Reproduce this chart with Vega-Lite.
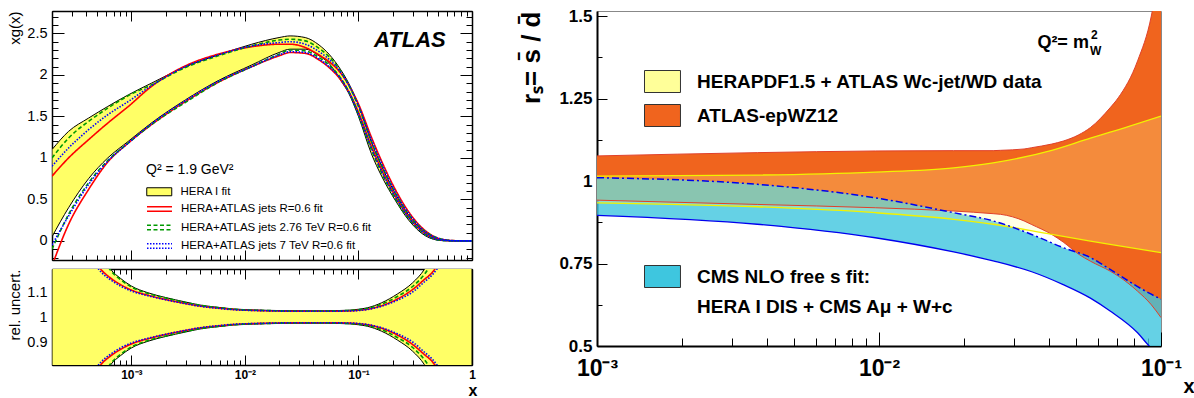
{
"$schema": "https://vega.github.io/schema/vega-lite/v6.json",
"background": "white",
"padding": {"left": 7, "top": 6, "right": 0, "bottom": 0},
"config": {
  "font": "Liberation Sans",
  "axis": {"labelFont": "Liberation Sans", "titleFont": "Liberation Sans", "domainColor": "black", "tickColor": "black", "labelColor": "black", "titleColor": "black", "grid": false},
  "legend": {"labelFont": "Liberation Sans", "titleFont": "Liberation Sans", "labelColor": "black", "titleColor": "black"}
},
"resolve": {
  "scale": {"fill": "independent", "color": "independent", "stroke": "independent", "strokeDash": "independent"},
  "legend": {"fill": "independent", "color": "independent", "stroke": "independent", "strokeDash": "independent"}
},
"datasets": {
 "pdf": [
  {"x":0.0002,"s":"H","lo":0.05,"hi":1.1},{"x":0.00028,"s":"H","lo":0.4,"hi":1.32},{"x":0.00042,"s":"H","lo":0.75,"hi":1.48},{"x":0.00062,"s":"H","lo":1.0,"hi":1.62},{"x":0.00094,"s":"H","lo":1.2,"hi":1.76},{"x":0.0015,"s":"H","lo":1.42,"hi":1.9},{"x":0.003,"s":"H","lo":1.7,"hi":2.1},{"x":0.0058,"s":"H","lo":1.93,"hi":2.24},{"x":0.0115,"s":"H","lo":2.12,"hi":2.37},{"x":0.02,"s":"H","lo":2.27,"hi":2.45},{"x":0.025,"s":"H","lo":2.31,"hi":2.47},{"x":0.034,"s":"H","lo":2.31,"hi":2.45},{"x":0.045,"s":"H","lo":2.23,"hi":2.36},{"x":0.055,"s":"H","lo":2.14,"hi":2.25},{"x":0.07,"s":"H","lo":1.93,"hi":2.06},{"x":0.082,"s":"H","lo":1.78,"hi":1.9},{"x":0.1,"s":"H","lo":1.5,"hi":1.64},{"x":0.13,"s":"H","lo":1.05,"hi":1.19},{"x":0.16,"s":"H","lo":0.78,"hi":0.9},{"x":0.213,"s":"H","lo":0.48,"hi":0.56},{"x":0.277,"s":"H","lo":0.25,"hi":0.31},{"x":0.39,"s":"H","lo":0.06,"hi":0.1},{"x":0.54,"s":"H","lo":0.004,"hi":0.015},{"x":0.7,"s":"H","lo":0,"hi":0.002},{"x":1,"s":"H","lo":0,"hi":0},
  {"x":0.0002,"s":"R","lo":-0.3,"hi":0.78},{"x":0.00028,"s":"R","lo":0.2,"hi":1.0},{"x":0.00042,"s":"R","lo":0.62,"hi":1.22},{"x":0.00062,"s":"R","lo":0.95,"hi":1.42},{"x":0.00094,"s":"R","lo":1.18,"hi":1.62},{"x":0.0015,"s":"R","lo":1.4,"hi":1.86},{"x":0.003,"s":"R","lo":1.68,"hi":2.11},{"x":0.0058,"s":"R","lo":1.91,"hi":2.25},{"x":0.0115,"s":"R","lo":2.1,"hi":2.34},{"x":0.02,"s":"R","lo":2.23,"hi":2.37},{"x":0.025,"s":"R","lo":2.27,"hi":2.37},{"x":0.034,"s":"R","lo":2.26,"hi":2.33},{"x":0.045,"s":"R","lo":2.18,"hi":2.24},{"x":0.055,"s":"R","lo":2.09,"hi":2.16},{"x":0.07,"s":"R","lo":1.94,"hi":2.02},{"x":0.082,"s":"R","lo":1.8,"hi":1.88},{"x":0.1,"s":"R","lo":1.55,"hi":1.65},{"x":0.13,"s":"R","lo":1.14,"hi":1.25},{"x":0.16,"s":"R","lo":0.86,"hi":0.96},{"x":0.213,"s":"R","lo":0.53,"hi":0.61},{"x":0.277,"s":"R","lo":0.29,"hi":0.35},{"x":0.39,"s":"R","lo":0.085,"hi":0.12},{"x":0.54,"s":"R","lo":0.01,"hi":0.02},{"x":0.7,"s":"R","lo":0.001,"hi":0.003},{"x":1,"s":"R","lo":0,"hi":0},
  {"x":0.0002,"s":"G","lo":-0.1,"hi":1.0},{"x":0.00028,"s":"G","lo":0.32,"hi":1.24},{"x":0.00042,"s":"G","lo":0.7,"hi":1.44},{"x":0.00062,"s":"G","lo":0.97,"hi":1.6},{"x":0.00094,"s":"G","lo":1.18,"hi":1.75},{"x":0.0015,"s":"G","lo":1.4,"hi":1.88},{"x":0.003,"s":"G","lo":1.67,"hi":2.09},{"x":0.0058,"s":"G","lo":1.91,"hi":2.23},{"x":0.0115,"s":"G","lo":2.1,"hi":2.35},{"x":0.02,"s":"G","lo":2.25,"hi":2.42},{"x":0.025,"s":"G","lo":2.3,"hi":2.43},{"x":0.034,"s":"G","lo":2.29,"hi":2.41},{"x":0.045,"s":"G","lo":2.21,"hi":2.32},{"x":0.055,"s":"G","lo":2.12,"hi":2.22},{"x":0.07,"s":"G","lo":1.96,"hi":2.04},{"x":0.082,"s":"G","lo":1.8,"hi":1.88},{"x":0.1,"s":"G","lo":1.52,"hi":1.62},{"x":0.13,"s":"G","lo":1.1,"hi":1.2},{"x":0.16,"s":"G","lo":0.82,"hi":0.91},{"x":0.213,"s":"G","lo":0.5,"hi":0.57},{"x":0.277,"s":"G","lo":0.27,"hi":0.32},{"x":0.39,"s":"G","lo":0.075,"hi":0.11},{"x":0.54,"s":"G","lo":0.005,"hi":0.02},{"x":0.7,"s":"G","lo":0,"hi":0.002},{"x":1,"s":"G","lo":0,"hi":0},
  {"x":0.0002,"s":"B","lo":-0.05,"hi":0.9},{"x":0.00028,"s":"B","lo":0.3,"hi":1.12},{"x":0.00042,"s":"B","lo":0.68,"hi":1.34},{"x":0.00062,"s":"B","lo":0.96,"hi":1.52},{"x":0.00094,"s":"B","lo":1.18,"hi":1.68},{"x":0.0015,"s":"B","lo":1.41,"hi":1.87},{"x":0.003,"s":"B","lo":1.69,"hi":2.1},{"x":0.0058,"s":"B","lo":1.92,"hi":2.24},{"x":0.0115,"s":"B","lo":2.1,"hi":2.35},{"x":0.02,"s":"B","lo":2.24,"hi":2.39},{"x":0.025,"s":"B","lo":2.28,"hi":2.4},{"x":0.034,"s":"B","lo":2.27,"hi":2.37},{"x":0.045,"s":"B","lo":2.19,"hi":2.28},{"x":0.055,"s":"B","lo":2.1,"hi":2.19},{"x":0.07,"s":"B","lo":1.95,"hi":2.03},{"x":0.082,"s":"B","lo":1.8,"hi":1.88},{"x":0.1,"s":"B","lo":1.53,"hi":1.63},{"x":0.13,"s":"B","lo":1.12,"hi":1.22},{"x":0.16,"s":"B","lo":0.84,"hi":0.93},{"x":0.213,"s":"B","lo":0.52,"hi":0.58},{"x":0.277,"s":"B","lo":0.28,"hi":0.33},{"x":0.39,"s":"B","lo":0.08,"hi":0.11},{"x":0.54,"s":"B","lo":0.008,"hi":0.02},{"x":0.7,"s":"B","lo":0.001,"hi":0.002},{"x":1,"s":"B","lo":0,"hi":0}
 ],
 "rel": [
  {"x":0.0002,"s":"H","lo":0.1,"hi":1.9},{"x":0.0003,"s":"H","lo":0.45,"hi":1.55},{"x":0.0004,"s":"H","lo":0.62,"hi":1.38},{"x":0.00054,"s":"H","lo":0.74,"hi":1.26},{"x":0.00066,"s":"H","lo":0.81,"hi":1.19},{"x":0.0008,"s":"H","lo":0.845,"hi":1.155},{"x":0.001,"s":"H","lo":0.876,"hi":1.124},{"x":0.0014,"s":"H","lo":0.903,"hi":1.097},{"x":0.002,"s":"H","lo":0.922,"hi":1.078},{"x":0.003,"s":"H","lo":0.94,"hi":1.06},{"x":0.004,"s":"H","lo":0.952,"hi":1.048},{"x":0.006,"s":"H","lo":0.962,"hi":1.038},{"x":0.008,"s":"H","lo":0.968,"hi":1.032},{"x":0.015,"s":"H","lo":0.973,"hi":1.027},{"x":0.03,"s":"H","lo":0.975,"hi":1.025},{"x":0.05,"s":"H","lo":0.975,"hi":1.025},{"x":0.08,"s":"H","lo":0.973,"hi":1.027},{"x":0.1,"s":"H","lo":0.969,"hi":1.031},{"x":0.12,"s":"H","lo":0.963,"hi":1.037},{"x":0.16,"s":"H","lo":0.943,"hi":1.057},{"x":0.22,"s":"H","lo":0.908,"hi":1.092},{"x":0.3,"s":"H","lo":0.863,"hi":1.137},{"x":0.38,"s":"H","lo":0.81,"hi":1.19},{"x":0.45,"s":"H","lo":0.75,"hi":1.25},{"x":0.6,"s":"H","lo":0.6,"hi":1.4},{"x":0.8,"s":"H","lo":0.4,"hi":1.6},{"x":1,"s":"H","lo":0.2,"hi":1.8},
  {"x":0.0002,"s":"R","lo":0.3,"hi":1.7},{"x":0.0003,"s":"R","lo":0.58,"hi":1.42},{"x":0.0004,"s":"R","lo":0.72,"hi":1.28},{"x":0.00054,"s":"R","lo":0.81,"hi":1.19},{"x":0.00066,"s":"R","lo":0.845,"hi":1.155},{"x":0.0008,"s":"R","lo":0.87,"hi":1.13},{"x":0.001,"s":"R","lo":0.892,"hi":1.108},{"x":0.0014,"s":"R","lo":0.913,"hi":1.087},{"x":0.002,"s":"R","lo":0.93,"hi":1.07},{"x":0.003,"s":"R","lo":0.946,"hi":1.054},{"x":0.004,"s":"R","lo":0.956,"hi":1.044},{"x":0.006,"s":"R","lo":0.965,"hi":1.035},{"x":0.008,"s":"R","lo":0.97,"hi":1.03},{"x":0.015,"s":"R","lo":0.975,"hi":1.025},{"x":0.03,"s":"R","lo":0.977,"hi":1.023},{"x":0.05,"s":"R","lo":0.977,"hi":1.023},{"x":0.08,"s":"R","lo":0.976,"hi":1.024},{"x":0.1,"s":"R","lo":0.973,"hi":1.027},{"x":0.12,"s":"R","lo":0.969,"hi":1.031},{"x":0.16,"s":"R","lo":0.955,"hi":1.045},{"x":0.22,"s":"R","lo":0.928,"hi":1.072},{"x":0.3,"s":"R","lo":0.89,"hi":1.11},{"x":0.38,"s":"R","lo":0.85,"hi":1.15},{"x":0.45,"s":"R","lo":0.82,"hi":1.18},{"x":0.6,"s":"R","lo":0.72,"hi":1.28},{"x":0.8,"s":"R","lo":0.55,"hi":1.45},{"x":1,"s":"R","lo":0.4,"hi":1.6},
  {"x":0.0002,"s":"G","lo":0.14,"hi":1.86},{"x":0.0003,"s":"G","lo":0.47,"hi":1.53},{"x":0.0004,"s":"G","lo":0.63,"hi":1.37},{"x":0.00054,"s":"G","lo":0.75,"hi":1.25},{"x":0.00066,"s":"G","lo":0.815,"hi":1.185},{"x":0.0008,"s":"G","lo":0.85,"hi":1.15},{"x":0.001,"s":"G","lo":0.88,"hi":1.12},{"x":0.0014,"s":"G","lo":0.906,"hi":1.094},{"x":0.002,"s":"G","lo":0.924,"hi":1.076},{"x":0.003,"s":"G","lo":0.942,"hi":1.058},{"x":0.004,"s":"G","lo":0.953,"hi":1.047},{"x":0.006,"s":"G","lo":0.963,"hi":1.037},{"x":0.008,"s":"G","lo":0.969,"hi":1.031},{"x":0.015,"s":"G","lo":0.974,"hi":1.026},{"x":0.03,"s":"G","lo":0.976,"hi":1.024},{"x":0.05,"s":"G","lo":0.976,"hi":1.024},{"x":0.08,"s":"G","lo":0.974,"hi":1.026},{"x":0.1,"s":"G","lo":0.971,"hi":1.029},{"x":0.12,"s":"G","lo":0.966,"hi":1.034},{"x":0.16,"s":"G","lo":0.949,"hi":1.051},{"x":0.22,"s":"G","lo":0.918,"hi":1.082},{"x":0.3,"s":"G","lo":0.878,"hi":1.122},{"x":0.38,"s":"G","lo":0.83,"hi":1.17},{"x":0.45,"s":"G","lo":0.78,"hi":1.22},{"x":0.6,"s":"G","lo":0.66,"hi":1.34},{"x":0.8,"s":"G","lo":0.48,"hi":1.52},{"x":1,"s":"G","lo":0.3,"hi":1.7},
  {"x":0.0002,"s":"B","lo":0.34,"hi":1.66},{"x":0.0003,"s":"B","lo":0.6,"hi":1.4},{"x":0.0004,"s":"B","lo":0.73,"hi":1.27},{"x":0.00054,"s":"B","lo":0.82,"hi":1.18},{"x":0.00066,"s":"B","lo":0.852,"hi":1.148},{"x":0.0008,"s":"B","lo":0.876,"hi":1.124},{"x":0.001,"s":"B","lo":0.896,"hi":1.104},{"x":0.0014,"s":"B","lo":0.915,"hi":1.085},{"x":0.002,"s":"B","lo":0.931,"hi":1.069},{"x":0.003,"s":"B","lo":0.947,"hi":1.053},{"x":0.004,"s":"B","lo":0.957,"hi":1.043},{"x":0.006,"s":"B","lo":0.966,"hi":1.034},{"x":0.008,"s":"B","lo":0.971,"hi":1.029},{"x":0.015,"s":"B","lo":0.975,"hi":1.025},{"x":0.03,"s":"B","lo":0.977,"hi":1.023},{"x":0.05,"s":"B","lo":0.977,"hi":1.023},{"x":0.08,"s":"B","lo":0.976,"hi":1.024},{"x":0.1,"s":"B","lo":0.974,"hi":1.026},{"x":0.12,"s":"B","lo":0.97,"hi":1.03},{"x":0.16,"s":"B","lo":0.957,"hi":1.043},{"x":0.22,"s":"B","lo":0.933,"hi":1.067},{"x":0.3,"s":"B","lo":0.9,"hi":1.1},{"x":0.38,"s":"B","lo":0.86,"hi":1.14},{"x":0.45,"s":"B","lo":0.83,"hi":1.17},{"x":0.6,"s":"B","lo":0.74,"hi":1.26},{"x":0.8,"s":"B","lo":0.58,"hi":1.42},{"x":1,"s":"B","lo":0.45,"hi":1.55}
 ],
 "rs": [
  {"x":0.001,"s":"E","lo":0.942,"hi":1.076},{"x":0.0037,"s":"E","lo":0.929,"hi":1.086},{"x":0.0097,"s":"E","lo":0.919,"hi":1.091},{"x":0.0184,"s":"E","lo":0.909,"hi":1.092},{"x":0.0254,"s":"E","lo":0.901,"hi":1.092},{"x":0.027,"s":"E","lo":0.899,"hi":1.093},{"x":0.0327,"s":"E","lo":0.879,"hi":1.097},{"x":0.0348,"s":"E","lo":0.868,"hi":1.101},{"x":0.041,"s":"E","lo":0.838,"hi":1.112},{"x":0.045,"s":"E","lo":0.815,"hi":1.121},{"x":0.0511,"s":"E","lo":0.778,"hi":1.14},{"x":0.0562,"s":"E","lo":0.757,"hi":1.162},{"x":0.066,"s":"E","lo":0.727,"hi":1.222},{"x":0.0705,"s":"E","lo":0.712,"hi":1.252},{"x":0.0826,"s":"E","lo":0.666,"hi":1.364},{"x":0.0924,"s":"E","lo":0.625,"hi":1.5},{"x":0.1,"s":"E","lo":0.586,"hi":1.68},
  {"x":0.001,"s":"W","lo":0.934,"hi":1.015},{"x":0.0037,"s":"W","lo":0.922,"hi":1.018},{"x":0.0097,"s":"W","lo":0.904,"hi":1.027},{"x":0.0184,"s":"W","lo":0.884,"hi":1.04},{"x":0.0254,"s":"W","lo":0.869,"hi":1.055},{"x":0.041,"s":"W","lo":0.838,"hi":1.093},{"x":0.0562,"s":"W","lo":0.818,"hi":1.13},{"x":0.066,"s":"W","lo":0.808,"hi":1.148},{"x":0.1,"s":"W","lo":0.783,"hi":1.197},
  {"x":0.001,"s":"C","lo":0.896,"hi":1.01},{"x":0.0037,"s":"C","lo":0.869,"hi":0.99},{"x":0.0097,"s":"C","lo":0.828,"hi":0.949},{"x":0.0184,"s":"C","lo":0.785,"hi":0.904},{"x":0.0254,"s":"C","lo":0.758,"hi":0.879},{"x":0.0348,"s":"C","lo":0.725,"hi":0.838},{"x":0.045,"s":"C","lo":0.686,"hi":0.798},{"x":0.0562,"s":"C","lo":0.645,"hi":0.768},{"x":0.066,"s":"C","lo":0.606,"hi":0.732},{"x":0.0826,"s":"C","lo":0.54,"hi":0.68},{"x":0.0908,"s":"C","lo":0.5,"hi":0.66},{"x":0.1,"s":"C","lo":0.47,"hi":0.642}
 ]
},
"spacing": 40,
"hconcat": [
 {
  "spacing": 9,
  "bounds": "flush",
  "resolve": {
    "scale": {"fill": "independent", "stroke": "independent", "strokeDash": "independent"},
    "legend": {"fill": "independent", "stroke": "independent", "strokeDash": "independent"}
  },
  "vconcat": [
   {
    "width": 420, "height": 249,
    "view": {"stroke": "black", "strokeWidth": 1},
    "data": {"name": "pdf"},
    "resolve": {"axis": {"x": "independent", "y": "independent"}},
    "layer": [
     {
      "transform": [{"filter": "datum.s == 'H'"}],
      "mark": {"type": "area", "stroke": "black", "strokeWidth": 1, "clip": true, "interpolate": "monotone"},
      "encoding": {
       "x": {"field": "x", "type": "quantitative", "scale": {"type": "log", "domain": [0.0002, 1], "nice": false},
             "axis": {"orient": "bottom", "labels": false, "title": null, "domainWidth": 1.5, "tickWidth": 1,
                      "values": [0.0002,0.0003,0.0004,0.0005,0.0006,0.0007,0.0008,0.0009,0.001,0.002,0.003,0.004,0.005,0.006,0.007,0.008,0.009,0.01,0.02,0.03,0.04,0.05,0.06,0.07,0.08,0.09,0.1,0.2,0.3,0.4,0.5,0.6,0.7,0.8,0.9,1],
                      "tickSize": {"condition": {"test": "abs(log(datum.value)/LN10-round(log(datum.value)/LN10))<0.001", "value": -10}, "value": -5}}},
       "y": {"field": "lo", "type": "quantitative", "scale": {"domain": [-0.23, 2.77], "nice": false, "zero": false},
             "axis": {"orient": "left", "title": "xg(x)", "titleFontSize": 15, "titleFontWeight": "normal", "titleAnchor": "end", "titlePadding": 4,
                      "values": [-0.2,-0.1,0,0.1,0.2,0.3,0.4,0.5,0.6,0.7,0.8,0.9,1,1.1,1.2,1.3,1.4,1.5,1.6,1.7,1.8,1.9,2,2.1,2.2,2.3,2.4,2.5,2.6,2.7],
                      "labelExpr": "abs(datum.value*2-round(datum.value*2))<0.001 ? ''+datum.value : ''",
                      "labelFontSize": 14.5, "labelPadding": 17, "domainWidth": 1.5, "tickWidth": 1,
                      "tickSize": {"condition": {"test": "abs(datum.value*2-round(datum.value*2))<0.001", "value": -12}, "value": -6}}},
       "y2": {"field": "hi"},
       "fill": {"field": "s", "type": "nominal", "scale": {"domain": ["H"], "range": ["#ffff66"]},
                "legend": {"orient": "none", "legendX": 94, "legendY": 152, "title": "Q² = 1.9 GeV²", "titleFontSize": 14, "titleFontWeight": "normal", "titlePadding": 9, "padding": 0,
                           "labelExpr": "'HERA I fit'", "labelFontSize": 11.5, "labelFontWeight": "normal", "labelOffset": 23, "labelLimit": 0,
                           "symbolType": "M-1,-0.8H4V0.8H-1Z", "symbolSize": 100, "symbolStrokeColor": "black", "symbolStrokeWidth": 1}}
      }
     },
     {
      "transform": [{"filter": "datum.s != 'H'"}, {"fold": ["lo", "hi"], "as": ["edge", "val"]}],
      "mark": {"type": "line", "strokeWidth": 1.6, "clip": true, "interpolate": "monotone"},
      "encoding": {
       "x": {"field": "x", "type": "quantitative", "axis": null},
       "y": {"field": "val", "type": "quantitative", "axis": null},
       "detail": {"field": "edge", "type": "nominal"},
       "stroke": {"field": "s", "type": "nominal", "scale": {"domain": ["R", "G", "B"], "range": ["#ff0000", "#009900", "#0000ff"]},
                  "legend": {"orient": "none", "legendX": 94, "legendY": 192, "title": null, "padding": 0, "rowPadding": 6.5,
                             "labelExpr": "datum.label == 'R' ? 'HERA+ATLAS jets R=0.6 fit' : datum.label == 'G' ? 'HERA+ATLAS jets 2.76 TeV R=0.6 fit' : 'HERA+ATLAS jets 7 TeV R=0.6 fit'",
                             "labelFontSize": 11.5, "labelOffset": 23, "labelLimit": 0,
                             "symbolType": "M-1,-0.45H4M-1,0.45H4", "symbolSize": 100, "symbolStrokeWidth": 1.5}},
       "strokeDash": {"field": "s", "type": "nominal", "scale": {"domain": ["R", "G", "B"], "range": [[1, 0], [4, 2.5], [1.5, 1.5]]},
                  "legend": {"orient": "none", "legendX": 94, "legendY": 192, "title": null, "padding": 0, "rowPadding": 6.5,
                             "labelExpr": "datum.label == 'R' ? 'HERA+ATLAS jets R=0.6 fit' : datum.label == 'G' ? 'HERA+ATLAS jets 2.76 TeV R=0.6 fit' : 'HERA+ATLAS jets 7 TeV R=0.6 fit'",
                             "labelFontSize": 11.5, "labelOffset": 23, "labelLimit": 0,
                             "symbolType": "M-1,-0.45H4M-1,0.45H4", "symbolSize": 100, "symbolStrokeWidth": 1.5}}
      }
     },
     {
      "data": {"values": [{}]},
      "mark": {"type": "text", "text": "ATLAS", "font": "Liberation Sans", "fontWeight": "bold", "fontStyle": "italic", "fontSize": 22, "align": "right", "baseline": "middle"},
      "encoding": {
       "x": {"datum": 0.587, "type": "quantitative", "axis": null},
       "y": {"datum": 2.425, "type": "quantitative", "axis": null}
      }
     },
     {
      "transform": [{"filter": "datum.s == 'H'"}],
      "mark": {"type": "point", "opacity": 0, "clip": true},
      "encoding": {
       "x": {"field": "x", "type": "quantitative",
             "axis": {"orient": "top", "labels": false, "title": null, "domainWidth": 1.5, "tickWidth": 1,
                      "values": [0.0002,0.0003,0.0004,0.0005,0.0006,0.0007,0.0008,0.0009,0.001,0.002,0.003,0.004,0.005,0.006,0.007,0.008,0.009,0.01,0.02,0.03,0.04,0.05,0.06,0.07,0.08,0.09,0.1,0.2,0.3,0.4,0.5,0.6,0.7,0.8,0.9,1],
                      "tickSize": {"condition": {"test": "abs(log(datum.value)/LN10-round(log(datum.value)/LN10))<0.001", "value": -10}, "value": -5}}},
       "y": {"field": "hi", "type": "quantitative",
             "axis": {"orient": "right", "labels": false, "title": null, "domainWidth": 1.5, "tickWidth": 1,
                      "values": [-0.2,-0.1,0,0.1,0.2,0.3,0.4,0.5,0.6,0.7,0.8,0.9,1,1.1,1.2,1.3,1.4,1.5,1.6,1.7,1.8,1.9,2,2.1,2.2,2.3,2.4,2.5,2.6,2.7],
                      "tickSize": {"condition": {"test": "abs(datum.value*2-round(datum.value*2))<0.001", "value": -12}, "value": -6}}}
      }
     }
    ]
   },
   {
    "width": 420, "height": 96,
    "view": {"stroke": "black", "strokeWidth": 1},
    "data": {"name": "rel"},
    "resolve": {"axis": {"x": "independent", "y": "independent"}},
    "layer": [
     {
      "transform": [{"filter": "datum.s == 'H'"}],
      "mark": {"type": "area", "fill": "#ffff66", "stroke": "black", "strokeWidth": 1, "clip": true, "interpolate": "monotone"},
      "encoding": {
       "x": {"field": "x", "type": "quantitative", "scale": {"type": "log", "domain": [0.0002, 1], "nice": false},
             "axis": {"orient": "bottom", "title": "x", "titleFontSize": 16, "titleFontWeight": "bold", "titleX": 425, "titleY": 25, "titleAlign": "right", "titleBaseline": "middle",
                      "values": [0.0002,0.0003,0.0004,0.0005,0.0006,0.0007,0.0008,0.0009,0.001,0.002,0.003,0.004,0.005,0.006,0.007,0.008,0.009,0.01,0.02,0.03,0.04,0.05,0.06,0.07,0.08,0.09,0.1,0.2,0.3,0.4,0.5,0.6,0.7,0.8,0.9,1],
                      "labelExpr": "datum.value == 0.001 ? '10⁻³' : datum.value == 0.01 ? '10⁻²' : datum.value == 0.1 ? '10⁻¹' : datum.value == 1 ? '1' : ''",
                      "labelFontSize": 12, "labelFontWeight": "bold", "labelPadding": 14, "labelFlush": false, "domainWidth": 1.5, "tickWidth": 1,
                      "tickSize": {"condition": {"test": "abs(log(datum.value)/LN10-round(log(datum.value)/LN10))<0.001", "value": -10}, "value": -5}}},
       "y": {"field": "lo", "type": "quantitative", "scale": {"domain": [0.808, 1.192], "nice": false, "zero": false},
             "axis": {"orient": "left", "title": "rel. uncert.", "titleFontSize": 15, "titleFontWeight": "normal", "titleAnchor": "end", "titlePadding": 4,
                      "values": [0.82,0.84,0.86,0.88,0.9,0.92,0.94,0.96,0.98,1,1.02,1.04,1.06,1.08,1.1,1.12,1.14,1.16,1.18],
                      "labelExpr": "abs(datum.value*10-round(datum.value*10))<0.001 ? ''+datum.value : ''",
                      "labelFontSize": 14.5, "labelPadding": 17, "domainWidth": 1.5, "tickWidth": 1,
                      "tickSize": {"condition": {"test": "abs(datum.value*10-round(datum.value*10))<0.001", "value": -12}, "value": -6}}},
       "y2": {"field": "hi"}
      }
     },
     {
      "transform": [{"filter": "datum.s != 'H'"}, {"fold": ["lo", "hi"], "as": ["edge", "val"]}],
      "mark": {"type": "line", "strokeWidth": 1.6, "clip": true, "interpolate": "monotone"},
      "encoding": {
       "x": {"field": "x", "type": "quantitative", "axis": null},
       "y": {"field": "val", "type": "quantitative", "axis": null},
       "detail": {"field": "edge", "type": "nominal"},
       "stroke": {"field": "s", "type": "nominal", "scale": {"domain": ["R", "G", "B"], "range": ["#ff0000", "#009900", "#0000ff"]}, "legend": null},
       "strokeDash": {"field": "s", "type": "nominal", "scale": {"domain": ["R", "G", "B"], "range": [[1, 0], [4, 2.5], [1.5, 1.5]]}, "legend": null}
      }
     },
     {
      "transform": [{"filter": "datum.s == 'H' && datum.hi < 1.19"}],
      "mark": {"type": "point", "opacity": 0, "clip": true},
      "encoding": {
       "x": {"field": "x", "type": "quantitative",
             "axis": {"orient": "top", "labels": false, "title": null, "domainWidth": 1.5, "tickWidth": 1,
                      "values": [0.0002,0.0003,0.0004,0.0005,0.0006,0.0007,0.0008,0.0009,0.001,0.002,0.003,0.004,0.005,0.006,0.007,0.008,0.009,0.01,0.02,0.03,0.04,0.05,0.06,0.07,0.08,0.09,0.1,0.2,0.3,0.4,0.5,0.6,0.7,0.8,0.9,1],
                      "tickSize": {"condition": {"test": "abs(log(datum.value)/LN10-round(log(datum.value)/LN10))<0.001", "value": -10}, "value": -5}}},
       "y": {"field": "hi", "type": "quantitative",
             "axis": {"orient": "right", "labels": false, "title": null, "domainWidth": 1.5, "tickWidth": 1,
                      "values": [0.82,0.84,0.86,0.88,0.9,0.92,0.94,0.96,0.98,1,1.02,1.04,1.06,1.08,1.1,1.12,1.14,1.16,1.18],
                      "tickSize": {"condition": {"test": "abs(datum.value*10-round(datum.value*10))<0.001", "value": -12}, "value": -6}}}
      }
     }
    ]
   }
  ]
 },
 {
  "width": 564, "height": 335,
  "view": {"stroke": "#888888", "strokeWidth": 1},
  "data": {"name": "rs"},
  "resolve": {"axis": {"x": "independent", "y": "independent"}},
  "layer": [
   {
    "transform": [{"filter": "datum.s == 'E'"}],
    "mark": {"type": "area", "clip": true, "interpolate": "monotone"},
    "encoding": {
     "x": {"field": "x", "type": "quantitative", "scale": {"type": "log", "domain": [0.001, 0.1], "nice": false},
           "axis": {"orient": "bottom", "title": "x", "titleFontSize": 20, "titleFontWeight": "bold", "titleX": 597, "titleY": 40, "titleAlign": "right", "titleBaseline": "middle",
                    "values": [0.001,0.002,0.003,0.004,0.005,0.006,0.007,0.008,0.009,0.01,0.02,0.03,0.04,0.05,0.06,0.07,0.08,0.09,0.1],
                    "labelExpr": "datum.value == 0.001 ? '10⁻³' : datum.value == 0.01 ? '10⁻²' : datum.value == 0.1 ? '10⁻¹' : ''",
                    "labelFontSize": 23, "labelFontWeight": "bold", "labelPadding": 25, "labelFlush": false, "domainWidth": 2, "tickWidth": 1,
                    "tickSize": {"condition": {"test": "abs(log(datum.value)/LN10-round(log(datum.value)/LN10))<0.001", "value": -14}, "value": -8}}},
     "y": {"field": "lo", "type": "quantitative", "scale": {"domain": [0.5, 1.5152], "nice": false, "zero": false},
           "axis": {"orient": "left", "title": "rₛ= s̄ / d̄", "titleFontSize": 26, "titleFontWeight": "bold", "titleAnchor": "end", "titlePadding": 14,
                    "values": [0.5,0.625,0.75,0.875,1,1.125,1.25,1.375,1.5],
                    "labelExpr": "abs(datum.value*4-round(datum.value*4))<0.001 ? ''+datum.value : ''",
                    "labelFontSize": 17, "labelFontWeight": "bold", "labelPadding": 15, "domainWidth": 2, "tickWidth": 1,
                    "tickSize": {"condition": {"test": "abs(datum.value*4-round(datum.value*4))<0.001", "value": -10}, "value": -5}}},
     "y2": {"field": "hi"},
     "fill": {"field": "s", "type": "nominal", "scale": {"domain": ["W", "E"], "range": ["#ffff99", "#f0641e"]},
              "legend": {"orient": "none", "legendX": 47, "legendY": 59, "title": null, "padding": 0, "rowPadding": 7,
                         "labelExpr": "datum.label == 'W' ? 'HERAPDF1.5 + ATLAS Wc-jet/WD data' : 'ATLAS-epWZ12'",
                         "labelFontSize": 19, "labelFontWeight": "bold", "labelOffset": 30, "labelLimit": 0,
                         "symbolType": "M-1,-1H2.27V1H-1Z", "symbolSize": 484, "symbolStrokeColor": "#333333", "symbolStrokeWidth": 1}}
    }
   },
   {
    "transform": [{"filter": "datum.s == 'C'"}],
    "mark": {"type": "area", "clip": true, "interpolate": "monotone", "fillOpacity": 0.8},
    "encoding": {
     "x": {"field": "x", "type": "quantitative", "axis": null},
     "y": {"field": "lo", "type": "quantitative", "axis": null},
     "y2": {"field": "hi"},
     "color": {"field": "s", "type": "nominal", "scale": {"domain": ["C"], "range": ["#3ec6df"]},
               "legend": {"orient": "none", "legendX": 47, "legendY": 254, "title": null, "padding": 0,
                          "labelExpr": "['CMS NLO free s fit:', 'HERA I DIS + CMS Aμ + W+c']",
                          "labelFontSize": 19, "labelFontWeight": "bold", "labelOffset": 30, "labelLimit": 0,
                          "symbolType": "M-1,-1H2.27V1H-1Z", "symbolSize": 484, "symbolStrokeColor": "#333333", "symbolStrokeWidth": 1,
                          "encode": {"labels": {"update": {"lineHeight": {"value": 30}}}}}}
    }
   },
   {
    "transform": [{"filter": "datum.s == 'W'"}],
    "mark": {"type": "area", "clip": true, "interpolate": "monotone", "fillOpacity": 0.25},
    "encoding": {
     "x": {"field": "x", "type": "quantitative", "axis": null},
     "y": {"field": "lo", "type": "quantitative", "axis": null},
     "y2": {"field": "hi"},
     "fill": {"field": "s", "type": "nominal", "scale": {"domain": ["W", "E"], "range": ["#ffff99", "#f0641e"]},
              "legend": {"orient": "none", "legendX": 47, "legendY": 59, "title": null, "padding": 0, "rowPadding": 7,
                         "labelExpr": "datum.label == 'W' ? 'HERAPDF1.5 + ATLAS Wc-jet/WD data' : 'ATLAS-epWZ12'",
                         "labelFontSize": 19, "labelFontWeight": "bold", "labelOffset": 30, "labelLimit": 0,
                         "symbolType": "M-1,-1H2.27V1H-1Z", "symbolSize": 484, "symbolStrokeColor": "#333333", "symbolStrokeWidth": 1}}
    }
   },
   {
    "transform": [{"filter": "datum.s == 'E'"}, {"fold": ["lo", "hi"], "as": ["edge", "val"]}],
    "mark": {"type": "line", "stroke": "#e0402a", "strokeWidth": 1, "clip": true, "interpolate": "monotone"},
    "encoding": {
     "x": {"field": "x", "type": "quantitative", "axis": null},
     "y": {"field": "val", "type": "quantitative", "axis": null},
     "detail": {"field": "edge", "type": "nominal"}
    }
   },
   {
    "transform": [{"filter": "datum.s == 'W'"}, {"fold": ["lo", "hi"], "as": ["edge", "val"]}],
    "mark": {"type": "line", "stroke": "#f2f200", "strokeWidth": 1.3, "clip": true, "interpolate": "monotone"},
    "encoding": {
     "x": {"field": "x", "type": "quantitative", "axis": null},
     "y": {"field": "val", "type": "quantitative", "axis": null},
     "detail": {"field": "edge", "type": "nominal"}
    }
   },
   {
    "transform": [{"filter": "datum.s == 'C'"}],
    "mark": {"type": "line", "stroke": "#0000ee", "strokeWidth": 1.5, "strokeDash": [7, 3, 2, 3], "clip": true, "interpolate": "monotone"},
    "encoding": {
     "x": {"field": "x", "type": "quantitative", "axis": null},
     "y": {"field": "hi", "type": "quantitative", "axis": null}
    }
   },
   {
    "transform": [{"filter": "datum.s == 'C'"}],
    "mark": {"type": "line", "stroke": "#0000ee", "strokeWidth": 1.3, "clip": true, "interpolate": "monotone"},
    "encoding": {
     "x": {"field": "x", "type": "quantitative", "axis": null},
     "y": {"field": "lo", "type": "quantitative", "axis": null}
    }
   },
   {
    "data": {"values": [{}]},
    "mark": {"type": "text", "text": "Q²= m", "font": "Liberation Sans", "fontWeight": "bold", "fontSize": 18, "align": "right", "baseline": "middle"},
    "encoding": {
     "x": {"datum": 0.0555, "type": "quantitative", "axis": null},
     "y": {"datum": 1.419, "type": "quantitative", "axis": null}
    }
   },
   {
    "data": {"values": [{}]},
    "mark": {"type": "text", "text": "2", "font": "Liberation Sans", "fontWeight": "bold", "fontSize": 12, "align": "left", "baseline": "middle", "dx": 2, "dy": -8},
    "encoding": {
     "x": {"datum": 0.0555, "type": "quantitative", "axis": null},
     "y": {"datum": 1.419, "type": "quantitative", "axis": null}
    }
   },
   {
    "data": {"values": [{}]},
    "mark": {"type": "text", "text": "W", "font": "Liberation Sans", "fontWeight": "bold", "fontSize": 12, "align": "left", "baseline": "middle", "dx": 1, "dy": 8},
    "encoding": {
     "x": {"datum": 0.0555, "type": "quantitative", "axis": null},
     "y": {"datum": 1.419, "type": "quantitative", "axis": null}
    }
   }
  ]
 }
]
}
